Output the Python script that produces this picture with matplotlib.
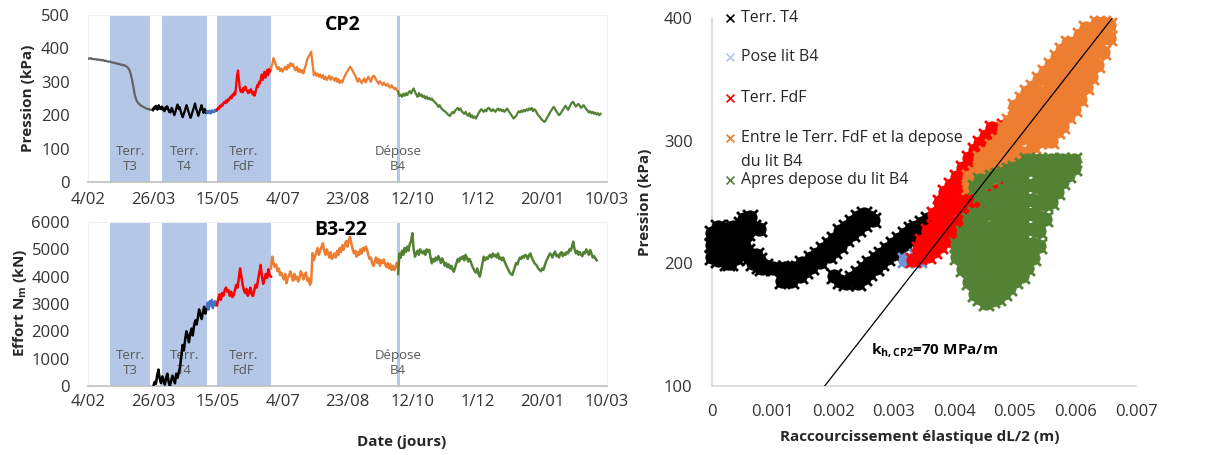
import numpy as np
import matplotlib
matplotlib.use('Agg')
import matplotlib.pyplot as plt

plt.rcParams['font.family'] = ['Open Sans', 'DejaVu Sans']
plt.rcParams['mathtext.fontset'] = 'custom'
plt.rcParams['mathtext.rm'] = 'Open Sans'
plt.rcParams['mathtext.bf'] = 'Open Sans:bold'
plt.rcParams['mathtext.it'] = 'Open Sans:italic'

# ---------------- data ----------------
date_ticks = [0, 50, 100, 150, 200, 250, 300, 350, 400]
date_labels = ['4/02', '26/03', '15/05', '4/07', '23/08', '12/10', '1/12', '20/01', '10/03']
phase_labels = ['Terr.\nT3', 'Terr.\nT4', 'Terr.\nFdF']
phase_start = [17, 57, 99.4]
phase_end = [47.8, 91.7, 141]
depose_label = 'Dépose\nB4'
depose_day = 239

# segment day bounds (pression)
seg_days = [0, 50, 91.5, 99.4, 141, 239, 395]

# Pression CP2 (kPa)
p_gray = [370, 369, 371, 368, 369, 367, 368, 366, 367, 365,
          366, 364, 365, 362, 363, 361, 360, 361, 359, 357,
          358, 355, 356, 353, 354, 351, 352, 349, 350, 347,
          345, 341, 335, 322, 305, 285, 262, 248, 240, 235,
          232, 228, 226, 224, 222, 220, 218, 219, 216, 217, 215]
p_t4 = [215, 222, 218, 226, 220, 228, 224, 216, 222, 230, 225, 219, 224, 218, 226, 221,
        215, 220, 212, 218, 224, 219, 227, 222, 216, 210, 214, 208, 215, 222, 218, 212,
        206, 200, 205, 212, 220, 226, 232, 224, 218, 225, 219, 212, 205, 198, 194, 200,
        206, 212, 218, 225, 230, 224, 216, 210, 204, 198, 192, 196, 203, 210, 216, 222,
        228, 235, 226, 218, 212, 205, 198, 204, 211, 218, 224, 230, 222, 214, 207, 213,
        219, 212, 206, 210]
p_pose = [210, 206, 212, 208, 214, 205, 211, 207, 215, 210, 213, 209, 216, 212, 218, 215]
p_fdf = [215, 222, 218, 228, 224, 232, 228, 236, 240, 236, 244, 238, 248, 244, 252, 256,
         250, 262, 258, 268, 262, 290, 320, 334, 305, 280, 270, 276, 268, 282, 274, 286,
         278, 272, 266, 274, 268, 278, 272, 262, 270, 258, 266, 280, 290, 285, 300, 295,
         312, 322, 305, 318, 330, 312, 325, 336, 320, 338, 330, 342]
p_entre = [340, 352, 371, 360, 348, 338, 344, 332, 340, 330,
           338, 345, 336, 350, 342, 356, 348, 353, 340, 334,
           345, 330, 338, 328, 335, 325, 340, 352, 368, 375,
           382, 390, 355, 320, 328, 318, 325, 315, 322, 312,
           320, 308, 316, 305, 312, 318, 306, 314, 310, 303,
           312, 300, 308, 296, 304, 298, 310, 318, 326, 332,
           338, 345, 340, 332, 325, 318, 308, 300, 310, 302,
           296, 304, 310, 298, 306, 315, 308, 300, 312, 318,
           315, 306, 300, 294, 302, 296, 290, 298, 292, 288,
           294, 286, 282, 290, 284, 278, 282, 275, 272]
p_apres = [270, 258, 262, 255, 264, 258, 266, 260, 268, 272,
           265, 274, 280, 270, 262, 255, 266, 258, 262, 254,
           258, 250, 256, 248, 252, 246, 250, 244, 240, 236,
           232, 225, 230, 222, 218, 214, 212, 208, 204, 200,
           198, 204, 210, 206, 214, 218, 222, 215, 220, 212,
           208, 204, 210, 202, 198, 206, 194, 200, 192, 196,
           190, 198, 206, 212, 218, 214, 210, 216, 212, 220,
           222, 216, 212, 218, 214, 210, 216, 220, 214, 218,
           212, 216, 210, 215, 220, 214, 208, 202, 196, 190,
           194, 198, 206, 212, 208, 214, 210, 216, 212, 218,
           214, 220, 216, 222, 212, 218, 214, 206, 200, 196,
           190, 186, 182, 180, 186, 194, 200, 208, 214, 220,
           225, 218, 212, 206, 200, 204, 210, 216, 222, 228,
           222, 216, 224, 232, 238, 240, 232, 226, 230, 234,
           228, 222, 226, 230, 224, 218, 214, 208, 212, 206,
           210, 204, 208, 202, 206, 200, 204]

# Effort Nm B3-22 (kN)
n_days = [50.4, 91.5, 99.4, 141, 239, 392]
n_t4 = [0, 150, 80, 400, 600, 250, 100, 350, 200, 50, 300, 450, 150, 0, 200, 380, 250,
        100, 450, 300, 500, 700, 1100, 1500, 1300, 1700, 2000, 1850, 1600, 1900, 2100,
        1850, 2200, 2400, 2250, 2500, 2800, 2600, 2450, 2700, 2900, 2650, 2850]
n_pose = [2900, 3050, 2800, 3100, 2950, 3150, 2850, 3000, 3100, 2950, 3050]
n_fdf = [2950, 3200, 3350, 3150, 3400, 3300, 3500, 3600, 3450, 3510,
         3300, 3450, 3250, 3330, 3500, 3700, 3600, 3950, 4300, 4000,
         3700, 3500, 3400, 3550, 3300, 3450, 3600, 3350, 3290, 3500,
         3700, 3600, 3900, 4150, 4430, 4000, 3740, 3900, 4100, 3950,
         4270, 4050, 4000]
n_entre = [4300, 4730, 4500, 4350, 4450, 4200, 4300, 4060, 4150, 4000,
           3900, 4100, 3760, 3950, 4050, 4190, 4000, 3850, 4100, 3900,
           4000, 3820, 3950, 4200, 4100, 3900, 4060, 4150, 3850, 3950,
           3700, 3800, 4860, 4600, 4750, 4900, 5050, 4800, 4950, 5100,
           5220, 4950, 4800, 5000, 4850, 4700, 4900, 4650, 4730, 4850,
           4700, 4950, 4800, 5050, 4900, 5150, 4980, 5200, 5300, 5100,
           5350, 5460, 5200, 5000, 4850, 4950, 4730, 4900, 4800, 5000,
           4850, 5050, 4950, 5100, 5000, 4800, 4650, 4700, 4500, 4390,
           4550, 4700, 4500, 4650, 4400, 4600, 4500, 4630, 4450, 4350,
           4500, 4300, 4450, 4250, 4400, 4240, 4350, 4510, 4300]
n_apres = [4100, 4850, 4700, 4950, 4800, 5050, 4900, 5100, 4950, 5200,
           5300, 5590, 5000, 4730, 4850, 4950, 4800, 5000, 4900, 4850,
           4950, 4800, 5000, 4900, 4980, 4700, 4490, 4650, 4550, 4700,
           4600, 4750, 4650, 4500, 4670, 4550, 4400, 4500, 4350, 4450,
           4300, 4400, 4250, 4180, 4350, 4500, 4650, 4550, 4700, 4650,
           4750, 4600, 4800, 4700, 4550, 4650, 4550, 4400, 4300, 4200,
           4150, 4300, 4100, 4000, 4250, 4500, 4730, 4600, 4700, 4650,
           4750, 4800, 4700, 4850, 4750, 4800, 4700, 4850, 4650, 4700,
           4600, 4700, 4550, 4450, 4350, 4250, 4150, 4100, 4060, 4200,
           4350, 4500, 4450, 4600, 4700, 4650, 4750, 4700, 4800, 4750,
           4650, 4800, 4850, 4700, 4600, 4500, 4450, 4400, 4300, 4250,
           4200, 4300, 4250, 4400, 4550, 4650, 4750, 4850, 4800, 4700,
           4850, 4920, 4750, 4800, 4700, 4850, 4900, 4750, 4850, 4800,
           4900, 4850, 5000, 4950, 5100, 5280, 5000, 4850, 4950, 4800,
           4900, 4800, 4750, 4900, 4850, 5000, 4900, 4800, 4980, 4850,
           4700, 4750, 4670, 4600]

# Scatter points: (dL/2 [m], pression [kPa])
sc_t4 = [(0.0, 205), (0.0, 215), (0.0, 225), (0.00005, 210), (0.00005, 220), (0.0001, 203),
         (0.0001, 230), (0.0001, 218), (0.00014, 212), (0.00014, 222), (0.00019, 206),
         (0.00019, 228), (0.00019, 218), (0.00024, 216), (0.00024, 200), (0.00029, 209),
         (0.00029, 224), (0.00029, 200), (0.00034, 230), (0.00034, 218), (0.00039, 214),
         (0.00039, 204), (0.00039, 226), (0.00043, 222), (0.00043, 208), (0.00048, 232),
         (0.00048, 212), (0.00048, 220), (0.00053, 236), (0.00053, 214), (0.00053, 226),
         (0.00058, 225), (0.00063, 238), (0.00067, 230), (0.00058, 210), (0.00063, 205),
         (0.00067, 200), (0.00072, 207), (0.00077, 198), (0.00077, 203), (0.00082, 196),
         (0.00077, 228), (0.00087, 198), (0.00101, 196), (0.0012, 196),
         (0.00116, 186), (0.00125, 192), (0.0013, 186), (0.00135, 196), (0.00145, 190),
         (0.00149, 200), (0.00154, 194), (0.00164, 204), (0.00164, 197), (0.00173, 208),
         (0.00178, 201), (0.00183, 212), (0.00193, 206), (0.00193, 216), (0.00202, 210),
         (0.00202, 220), (0.00212, 214), (0.00212, 226), (0.00222, 220), (0.00222, 230),
         (0.00231, 224), (0.00231, 234), (0.00241, 228), (0.00241, 238), (0.00251, 232),
         (0.0026, 238), (0.00251, 240), (0.00265, 235),
         (0.00202, 190), (0.00212, 186), (0.00222, 184), (0.00231, 188), (0.00241, 192),
         (0.00241, 184), (0.00251, 196), (0.00251, 188), (0.0026, 200), (0.0026, 192),
         (0.0027, 204), (0.0027, 196), (0.00279, 208), (0.00279, 200), (0.00289, 212),
         (0.00289, 204), (0.00299, 216), (0.00299, 208), (0.00308, 220), (0.00308, 212),
         (0.00318, 224), (0.00318, 216), (0.00328, 228), (0.00328, 220), (0.00337, 230),
         (0.00337, 224), (0.00347, 233), (0.00347, 227), (0.00357, 236), (0.00366, 234),
         (0.00376, 237)]
sc_pose = [(0.00318, 203), (0.00328, 203), (0.00337, 206), (0.00347, 209), (0.00357, 212),
           (0.00342, 203)]

# clouds given as rows: (dL/2, [pressions])
rows_fdf = [(0.00332, [203]), (0.00342, [205, 212]), (0.00347, [210, 218]),
            (0.00357, [206, 216, 226]),
            (0.00366, [210, 220, 230, 240]), (0.00376, [214, 224, 234, 244, 250]),
            (0.00385, [218, 228, 238, 250, 258]), (0.00395, [222, 232, 244, 256, 264]),
            (0.00405, [222, 234, 246, 260, 270]), (0.00414, [226, 238, 250, 264, 278]),
            (0.00424, [230, 242, 256, 272, 286]), (0.00434, [236, 248, 262, 282, 292]),
            (0.00443, [244, 256, 290, 298]), (0.00453, [250, 262, 296, 304]),
            (0.00463, [258, 302, 310]), (0.00472, [260, 308]), (0.00482, [266, 312]),
            (0.00491, [270])]
rows_entre = [(0.00424, [262, 270]), (0.00434, [264, 274]), (0.00443, [268, 278, 286]),
              (0.00453, [270, 280, 290]),
              (0.00463, [272, 284, 296]), (0.00472, [276, 288, 300]),
              (0.00482, [278, 290, 302, 310]), (0.00491, [282, 294, 306, 316]),
              (0.00501, [286, 298, 310, 322, 328]), (0.00511, [290, 302, 314, 326, 334]),
              (0.0052, [290, 304, 316, 328, 340]), (0.0053, [296, 308, 320, 332, 344]),
              (0.0054, [300, 312, 324, 336, 350]), (0.00549, [304, 316, 328, 340, 356]),
              (0.00559, [300, 310, 322, 334, 348, 362]),
              (0.00569, [308, 318, 330, 342, 356, 368]),
              (0.00578, [312, 324, 336, 350, 364, 374]),
              (0.00588, [320, 332, 344, 358, 372, 380]),
              (0.00597, [326, 338, 352, 366, 380]), (0.00607, [334, 346, 360, 374, 386]),
              (0.00617, [344, 356, 370, 384, 392]), (0.00626, [352, 364, 378, 390]),
              (0.00636, [362, 374, 386, 396]), (0.00646, [372, 384, 396]),
              (0.00655, [384, 394])]
rows_apres = [(0.00405, [205, 215]), (0.00414, [195, 205, 215, 225]),
              (0.00424, [185, 195, 205, 215, 225, 235]),
              (0.00434, [175, 185, 195, 205, 215, 225, 240, 262]),
              (0.00443, [172, 182, 192, 202, 212, 222, 232, 256, 268]),
              (0.00453, [168, 178, 188, 198, 208, 218, 228, 240, 252, 266]),
              (0.00463, [170, 180, 190, 200, 210, 220, 230, 242, 254, 270]),
              (0.00472, [172, 182, 192, 202, 212, 222, 232, 244, 256, 272]),
              (0.00482, [176, 186, 196, 206, 216, 226, 236, 248, 260, 274]),
              (0.00491, [180, 190, 200, 210, 220, 230, 240, 252, 264, 276]),
              (0.00501, [186, 196, 206, 216, 226, 236, 246, 258, 270, 278]),
              (0.00511, [190, 200, 210, 220, 232, 244, 256, 268, 280]),
              (0.0052, [196, 206, 216, 228, 240, 252, 264, 276, 284]),
              (0.0053, [204, 216, 228, 240, 252, 264, 278]),
              (0.0054, [214, 226, 238, 250, 262, 274, 284]),
              (0.00549, [236, 248, 260, 272, 282]), (0.00559, [250, 262, 274, 284]),
              (0.00569, [258, 268, 278]), (0.00578, [266, 276, 284]),
              (0.00588, [272, 280]), (0.00597, [278, 284])]

# stiffness line k_h,CP2
k_line_dl = [0.00186, 0.00661]
k_line_p = [100, 400]

scatter_labels = ['Terr. T4', 'Pose lit B4', 'Terr. FdF',
                  'Entre le Terr. FdF et la depose\ndu lit B4', 'Apres depose du lit B4']
dl_ticks = [0, 0.001, 0.002, 0.003, 0.004, 0.005, 0.006, 0.007]
dl_labels = ['0', '0.001', '0.002', '0.003', '0.004', '0.005', '0.006', '0.007']

# ---------------- style ----------------
C_GRAY = '#646464'
C_BLACK = '#000000'
C_BLUE = '#4472C4'
C_LBLUE = '#B4C7E7'
C_RED = '#FF0000'
C_ORANGE = '#ED7D31'
C_GREEN = '#548235'
C_BAND = '#B4C7E7'
TXT = '#333333'

W, H = 1206, 455
fig = plt.figure(figsize=(W / 100, H / 100), dpi=100)


def px_axes(l, t, r, b):
    return fig.add_axes([l / W, 1 - b / H, (r - l) / W, (b - t) / H])


ax1 = px_axes(88, 15, 607, 182)
ax2 = px_axes(88, 222, 607, 386)
ax3 = px_axes(712, 18, 1136, 386)


def style_time_axis(ax, ymax, ystep, xpad):
    ax.set_xlim(0, 400)
    ax.set_ylim(0, ymax)
    ax.set_xticks(date_ticks)
    ax.set_xticklabels(date_labels)
    ax.set_yticks(np.arange(0, ymax + 1, ystep))
    ax.tick_params(axis='both', length=0, labelsize=12, colors=TXT)
    ax.tick_params(axis='y', pad=13)
    ax.tick_params(axis='x', pad=xpad)
    for s in ['left', 'top', 'right']:
        ax.spines[s].set_color('#F0F0F0')
        ax.spines[s].set_linewidth(0.8)
    ax.spines['bottom'].set_color('#BFBFBF')
    ax.spines['bottom'].set_linewidth(1.2)
    for s0, s1, lab in zip(phase_start, phase_end, phase_labels):
        ax.axvspan(s0, s1, color=C_BAND, lw=0, zorder=0)
        ax.text((s0 + s1) / 2, 0.14 * ymax, lab, ha='center', va='center',
                fontsize=9.5, color='#595959', linespacing=1.2, zorder=1)
    ax.axvspan(depose_day - 1.1, depose_day + 1.1, color=C_BAND, lw=0, zorder=0)
    ax.text(depose_day, 0.14 * ymax, depose_label, ha='center', va='center',
            fontsize=9.5, color='#595959', linespacing=1.2, zorder=1)


style_time_axis(ax1, 500, 100, 7)
style_time_axis(ax2, 6000, 1000, 6)

p_series = [p_gray, p_t4, p_pose, p_fdf, p_entre, p_apres]
p_colors = [C_GRAY, C_BLACK, C_BLUE, C_RED, C_ORANGE, C_GREEN]
for i, (vals, col) in enumerate(zip(p_series, p_colors)):
    d = np.linspace(seg_days[i], seg_days[i + 1], len(vals))
    ax1.plot(d, vals, color=col, lw=1.6, zorder=3)

n_series = [n_t4, n_pose, n_fdf, n_entre, n_apres]
n_colors = [C_BLACK, C_BLUE, C_RED, C_ORANGE, C_GREEN]
for i, (vals, col) in enumerate(zip(n_series, n_colors)):
    d = np.linspace(n_days[i], n_days[i + 1], len(vals))
    ax2.plot(d, vals, color=col, lw=1.8, zorder=3)

ax1.text(196, 0.94 * 500, 'CP2', ha='center', va='center', fontsize=14,
         fontweight='bold', color='black')
ax2.text(195, 0.95 * 6000, 'B3-22', ha='center', va='center', fontsize=14,
         fontweight='bold', color='black')

fig.text(28 / W, 1 - 98 / H, 'Pression (kPa)', rotation=90, ha='center', va='center',
         fontsize=11, fontweight='bold', color='#262626')
fig.text(20 / W, 1 - 303 / H, r'Effort $\mathbf{N}_{\mathbf{m}}$ (kN)', rotation=90,
         ha='center', va='center', fontsize=11, fontweight='bold', color='#262626')
fig.text(402 / W, 1 - 442 / H, 'Date (jours)', ha='center', va='center',
         fontsize=11, fontweight='bold', color='#262626')

# ---------------- right scatter ----------------
ax3.set_xlim(0, 0.007)
ax3.set_ylim(100, 400)
ax3.set_xticks(dl_ticks)
ax3.set_xticklabels(dl_labels)
ax3.set_yticks([100, 200, 300, 400])
ax3.tick_params(axis='both', length=0, labelsize=12, colors=TXT)
ax3.tick_params(axis='y', pad=14)
ax3.tick_params(axis='x', pad=13)
for s in ['top', 'right']:
    ax3.spines[s].set_visible(False)
for s in ['left', 'bottom']:
    ax3.spines[s].set_color('#D9D9D9')
    ax3.spines[s].set_linewidth(1.2)


def rows_to_points(rows):
    return [(dl, p) for dl, ps in rows for p in ps]


sc_sets = [(sc_t4, C_BLACK), (sc_pose, '#6F95D6'), (rows_to_points(rows_fdf), C_RED),
           (rows_to_points(rows_entre), C_ORANGE), (rows_to_points(rows_apres), C_GREEN)]
for pts, col in sc_sets:
    arr = np.array(pts, dtype=float)
    ax3.scatter(arr[:, 0], arr[:, 1], marker='o', s=105, linewidths=0, color=col,
                zorder=3, clip_on=False)
    ax3.scatter(arr[:, 0], arr[:, 1], marker='x', s=115, linewidths=2.0, color=col,
                zorder=3, clip_on=False)

ax3.plot(k_line_dl, k_line_p, color='black', lw=0.9, zorder=4)
ax3.text(0.00262, 129, r'$\mathbf{k}_{\mathbf{h,CP2}}$=70 MPa/m', ha='left', va='center',
         fontsize=11, fontweight='bold', color='black')

ax3.set_ylabel('Pression (kPa)', fontsize=11, fontweight='bold', color='#262626')
ax3.yaxis.set_label_coords((652 - 712) / 424, 0.5)
ax3.set_xlabel('Raccourcissement élastique dL/2 (m)', fontsize=11, fontweight='bold',
               color='#262626')
ax3.xaxis.set_label_coords(0.49, (386 - 430) / 368)

# legend drawn in axes coordinates
leg_colors = [C_BLACK, C_LBLUE, C_RED, C_ORANGE, C_GREEN]
leg_rows_px = [18, 57, 98, 138, 180]
for lab, col, ypx in zip(scatter_labels, leg_colors, leg_rows_px):
    ya = (386 - ypx) / 368
    ax3.scatter([(730 - 712) / 424], [ya], marker='x', s=32, linewidths=1.2, color=col,
                transform=ax3.transAxes, clip_on=False, zorder=5)
    for j, line in enumerate(lab.split('\n')):
        ax3.text((741 - 712) / 424, (386 - ypx - 24 * j) / 368, line,
                 transform=ax3.transAxes, ha='left', va='center',
                 fontsize=11.5, color='#262626', zorder=5)

fig.savefig('out.png', dpi=100)
